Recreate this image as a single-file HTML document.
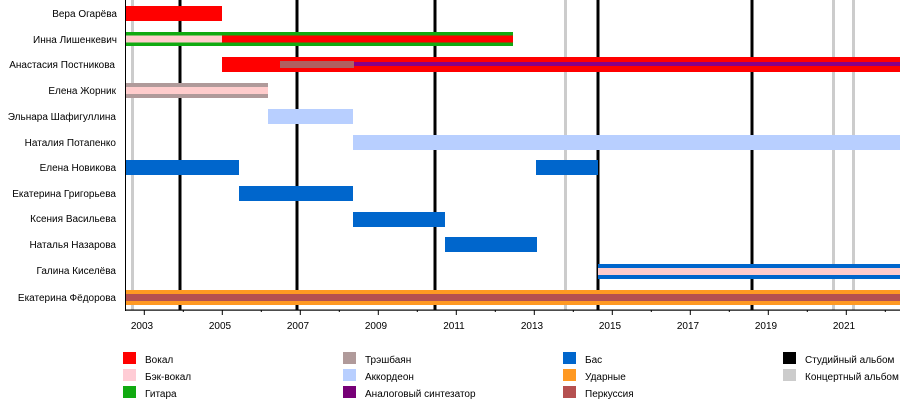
<!DOCTYPE html>
<html><head><meta charset="utf-8"><style>
body{margin:0;background:#fff}
svg text{font-family:"Liberation Sans","DejaVu Sans",sans-serif;font-size:10px;fill:#000}
</style></head><body>
<svg width="900" height="400" xmlns="http://www.w3.org/2000/svg">
<!-- album lines -->
<g fill="#000">
<rect x="178.5" y="0" width="3" height="310"/>
<rect x="295.5" y="0" width="3" height="310"/>
<rect x="433.5" y="0" width="3" height="310"/>
<rect x="596.5" y="0" width="3" height="310"/>
<rect x="750.5" y="0" width="3" height="310"/>
</g>
<g fill="#cccccc">
<rect x="131" y="0" width="3" height="310"/>
<rect x="564" y="0" width="3" height="310"/>
<rect x="832" y="0" width="3" height="310"/>
<rect x="852" y="0" width="3" height="310"/>
</g>
<!-- bars -->
<g>
<rect x="125" y="6" width="97" height="15" fill="#ff0000"/>
<rect x="125" y="32" width="388" height="14" fill="#11aa11"/>
<rect x="125" y="35.5" width="97" height="7" fill="#ffcccc"/>
<rect x="222" y="35.5" width="291" height="7" fill="#ff0000"/>
<rect x="222" y="57" width="678" height="15" fill="#ff0000"/>
<rect x="280" y="61" width="74" height="7" fill="#b06060"/>
<rect x="354" y="62" width="546" height="4" fill="#880088"/>
<rect x="125" y="83" width="143" height="15" fill="#b09a9a"/>
<rect x="125" y="87" width="143" height="7" fill="#ffcccc"/>
<rect x="268" y="109" width="85" height="15" fill="#b8cfff"/>
<rect x="353" y="135" width="547" height="15" fill="#b8cfff"/>
<rect x="125" y="160" width="114" height="15" fill="#0066cc"/>
<rect x="536" y="160" width="62" height="15" fill="#0066cc"/>
<rect x="239" y="186" width="114" height="15" fill="#0066cc"/>
<rect x="353" y="212" width="92" height="15" fill="#0066cc"/>
<rect x="445" y="237" width="92" height="15" fill="#0066cc"/>
<rect x="598" y="264" width="302" height="15" fill="#0066cc"/>
<rect x="598" y="268" width="302" height="7" fill="#ffcccc"/>
<rect x="125" y="290" width="775" height="15" fill="#ff9922"/>
<rect x="125" y="294" width="775" height="7" fill="#b55050"/>
</g>
<!-- axes -->
<rect x="125" y="0" width="1" height="311" fill="#000"/>
<rect x="125" y="309.5" width="775" height="1.2" fill="#000"/>
<g stroke="#000" stroke-width="1">
<line x1="144.3" y1="310" x2="144.3" y2="315"/><line x1="183.3" y1="310" x2="183.3" y2="312"/>
<line x1="222.3" y1="310" x2="222.3" y2="315"/><line x1="261.3" y1="310" x2="261.3" y2="312"/>
<line x1="300.3" y1="310" x2="300.3" y2="315"/><line x1="339.3" y1="310" x2="339.3" y2="312"/>
<line x1="378.3" y1="310" x2="378.3" y2="315"/><line x1="417.3" y1="310" x2="417.3" y2="312"/>
<line x1="456.3" y1="310" x2="456.3" y2="315"/><line x1="495.3" y1="310" x2="495.3" y2="312"/>
<line x1="534.3" y1="310" x2="534.3" y2="315"/><line x1="573.3" y1="310" x2="573.3" y2="312"/>
<line x1="612.3" y1="310" x2="612.3" y2="315"/><line x1="651.3" y1="310" x2="651.3" y2="312"/>
<line x1="690.3" y1="310" x2="690.3" y2="315"/><line x1="729.3" y1="310" x2="729.3" y2="312"/>
<line x1="768.3" y1="310" x2="768.3" y2="315"/><line x1="807.3" y1="310" x2="807.3" y2="312"/>
<line x1="846.3" y1="310" x2="846.3" y2="315"/><line x1="885.3" y1="310" x2="885.3" y2="312"/>
</g>
<g text-anchor="middle">
<text x="142" y="329">2003</text><text x="220" y="329">2005</text><text x="298" y="329">2007</text>
<text x="376" y="329">2009</text><text x="454" y="329">2011</text><text x="532" y="329">2013</text>
<text x="610" y="329">2015</text><text x="688" y="329">2017</text><text x="766" y="329">2019</text>
<text x="844" y="329">2021</text>
</g>
<!-- names -->
<g text-anchor="end">
<text x="117" y="17">Вера Огарёва</text>
<text x="117" y="43">Инна Лишенкевич</text>
<text x="115" y="68">Анастасия Постникова</text>
<text x="116" y="94">Елена Жорник</text>
<text x="116" y="120">Эльнара Шафигуллина</text>
<text x="116" y="146">Наталия Потапенко</text>
<text x="116" y="171">Елена Новикова</text>
<text x="116" y="197">Екатерина Григорьева</text>
<text x="116" y="222">Ксения Васильева</text>
<text x="116" y="248">Наталья Назарова</text>
<text x="116" y="274">Галина Киселёва</text>
<text x="116" y="301">Екатерина Фёдорова</text>
</g>
<!-- legend -->
<rect x="123" y="352" width="13" height="12" fill="#ff0000"/><text x="145" y="363">Вокал</text>
<rect x="123" y="369" width="13" height="12" fill="#ffccd5"/><text x="145" y="380">Бэк-вокал</text>
<rect x="123" y="386" width="13" height="12" fill="#11aa11"/><text x="145" y="397">Гитара</text>
<rect x="343" y="352" width="13" height="12" fill="#b09a9a"/><text x="365" y="363">Трэшбаян</text>
<rect x="343" y="369" width="13" height="12" fill="#b8cfff"/><text x="365" y="380">Аккордеон</text>
<rect x="343" y="386" width="13" height="12" fill="#770077"/><text x="365" y="397">Аналоговый синтезатор</text>
<rect x="563" y="352" width="13" height="12" fill="#0066cc"/><text x="585" y="363">Бас</text>
<rect x="563" y="369" width="13" height="12" fill="#ff9922"/><text x="585" y="380">Ударные</text>
<rect x="563" y="386" width="13" height="12" fill="#b55050"/><text x="585" y="397">Перкуссия</text>
<rect x="783" y="352" width="13" height="12" fill="#000"/><text x="805" y="363">Студийный альбом</text>
<rect x="783" y="369" width="13" height="12" fill="#cccccc"/><text x="805" y="380">Концертный альбом</text>
</svg>
</body></html>
